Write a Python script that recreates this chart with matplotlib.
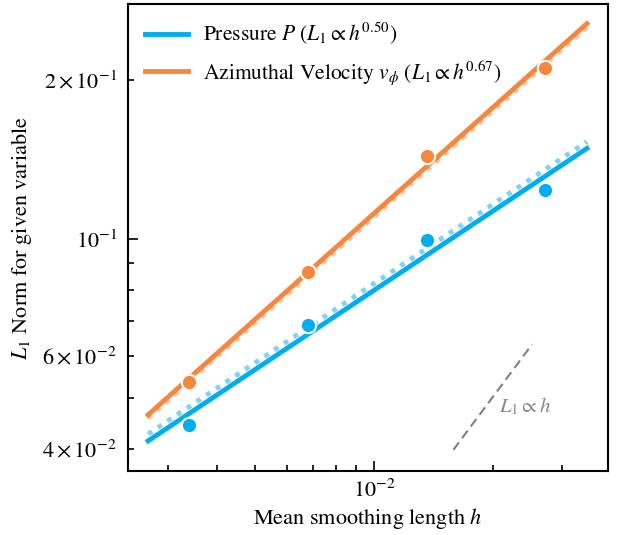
#!/usr/bin/env python3
# L1 convergence of pressure and azimuthal velocity against smoothing length

import numpy as np
import matplotlib
matplotlib.use("Agg")
import matplotlib.pyplot as plt

h = [0.00339, 0.00680, 0.01363, 0.02716]
l1_pressure = [0.04444, 0.06876, 0.0996, 0.1240]
l1_vphi = [0.0536, 0.0866, 0.1436, 0.2108]

labels = [r"Pressure $P$ ($L_1 \propto h^{0.50}$)",
          r"Azimuthal Velocity $v_\phi$ ($L_1 \propto h^{0.67}$)"]
colors = ["#00aef0", "#f5873f"]
light_colors = ["#80d2f6", "#f9c09a"]
guide_shift = [1.03, 0.985]  # offset of the faint dotted guides from the fits

fit_range = [0.002669, 0.03472]
ref_h = [0.0159, 0.0252]
ref_amp = 2.507

plt.rcParams["font.family"] = "STIXGeneral"
plt.rcParams["mathtext.fontset"] = "stix"
plt.rcParams["font.size"] = 16

fig = plt.figure(figsize=(6.22, 5.35), dpi=100)
ax = fig.add_axes([0.2058, 0.1196, 0.7717, 0.8729])
ax.set_xscale("log")
ax.set_yscale("log")

hh = np.geomspace(fit_range[0], fit_range[1], 50)
for y, lab, c, lc, s in zip([l1_pressure, l1_vphi], labels, colors, light_colors, guide_shift):
    slope, icpt = np.polyfit(np.log10(h), np.log10(y), 1)
    fit = 10**icpt * hh**slope
    ax.plot(hh, fit * s, color=lc, lw=3.5, ls=(0, (1, 1.4)), zorder=2)
    ax.plot(hh, fit, color=c, lw=3.5, label=lab, zorder=3)
    ax.plot(h, y, "o", color=c, ms=11, mec="white", mew=1.5, zorder=4)

rh = np.array(ref_h)
ax.plot(rh, ref_amp * rh, color="#808080", lw=1.5, ls=(0, (4.5, 2.5)))
ax.text(0.0208, 0.0481, r"$L_1 \propto h$", color="#888888", fontsize=15, va="center")

ax.set_xlim(0.002374, 0.03927)
ax.set_ylim(0.03635, 0.2786)
ax.set_xlabel(r"Mean smoothing length $h$", labelpad=3)
ax.set_ylabel(r"$L_1$ Norm for given variable", labelpad=6)

ax.tick_params(which="both", direction="in", width=1.2)
ax.tick_params(axis="y", which="both", pad=8)
ax.tick_params(axis="x", which="both", pad=6)
ax.tick_params(which="major", length=7)
ax.tick_params(which="minor", length=4)
for sp in ax.spines.values():
    sp.set_linewidth(1.5)

ax.legend(loc="upper left", frameon=False, handlelength=2.0, handletextpad=0.7,
          fontsize=15.5, borderaxespad=0.4)

fig.savefig("out.png", dpi=100)
